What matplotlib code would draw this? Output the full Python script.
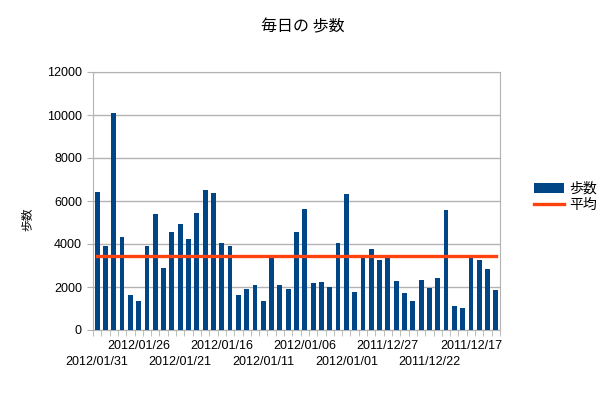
import matplotlib
matplotlib.use("Agg")
import matplotlib.pyplot as plt
from matplotlib.ticker import MultipleLocator
import numpy as np

plt.rcParams['font.family'] = ['Liberation Sans', 'Noto Sans CJK JP', 'DejaVu Sans']

# daily step counts, newest first (2012/01/31 -> 2011/12/14)
steps = [6435, 3917, 10073, 4337, 1632, 1368, 3917, 5409, 2891, 4570,
         4943, 4244, 5456, 6528, 6389, 4057, 3917, 1632, 1912, 2098,
         1368, 3404, 2098, 1912, 4570, 5642, 2192, 2238, 2005, 4057,
         6342, 1772, 3404, 3777, 3264, 3404, 2285, 1725, 1352, 2332,
         1959, 2425, 5596, 1119, 1026, 3404, 3264, 2845, 1865]
avg_steps = 3450

date_labels = ["2012/01/31", "2012/01/26", "2012/01/21", "2012/01/16", "2012/01/11",
               "2012/01/06", "2012/01/01", "2011/12/27", "2011/12/22", "2011/12/17"]

bar_color = "#004586"
avg_color = "#ff420e"
grid_color = "#b3b3b3"

x = np.arange(len(steps))

fig = plt.figure(figsize=(6.06, 3.95), dpi=100)
ax = fig.add_axes([93/606, 1-330/395, 407/606, 258/395])

bars = ax.bar(x, steps, width=0.58, color=bar_color, label="歩数", zorder=3)
line, = ax.plot([x[0], x[-1]], [avg_steps, avg_steps], color=avg_color, lw=2.4,
                label="平均", zorder=4)

ax.set_xlim(-0.5, len(steps)-0.5)
ax.set_ylim(0, 12000)
ax.yaxis.set_major_locator(MultipleLocator(2000))
ax.grid(axis="y", color=grid_color, lw=1, zorder=0)
for s in ax.spines.values():
    s.set_color(grid_color)

# x ticks: labels every 5 days in two rows, small ticks between bars
ax.set_xticks(x[::5])
ax.set_xticklabels(date_labels, fontsize=9)
ax.set_xticks(np.arange(len(steps)+1) - 0.5, minor=True)
ax.tick_params(axis="x", which="major", length=0)
ax.tick_params(axis="x", which="minor", length=4, color=grid_color)
for i, t in enumerate(ax.xaxis.get_major_ticks()):
    t.set_pad(18.5 if i % 2 == 0 else 7)

ax.tick_params(axis="y", length=4.5, color=grid_color, labelsize=9, pad=3.5)

ax.set_ylabel("歩数", fontsize=8.5, family=['Noto Sans CJK JP'])
ax.yaxis.set_label_coords(-59/407, 0.43)

fig.text(0.5, 1-27/395, "毎日の 歩数", ha="center", va="center", fontsize=11.5,
         family=['Noto Sans CJK JP'])

fig.legend(handles=[bars, line], loc="center left", bbox_to_anchor=(528/606, 1-197/395),
           frameon=False, prop={'family': 'Noto Sans CJK JP', 'size': 10},
           handlelength=2.2, handletextpad=0.35, labelspacing=0.15, borderaxespad=0)

fig.savefig("out.png", dpi=100)
